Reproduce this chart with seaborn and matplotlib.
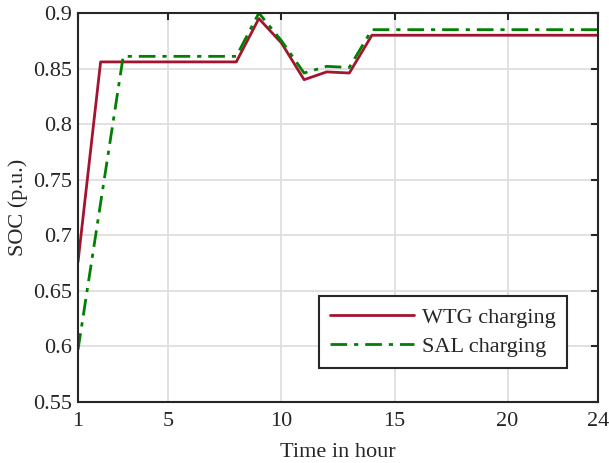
import matplotlib
matplotlib.use("Agg")
import matplotlib.pyplot as plt
import seaborn as sns
import pandas as pd

hours = list(range(1, 25))
wtg = [0.676, 0.856, 0.856, 0.856, 0.856, 0.856, 0.856, 0.856, 0.895, 0.873,
       0.840, 0.847, 0.846, 0.880, 0.880, 0.880, 0.880, 0.880, 0.880, 0.880,
       0.880, 0.880, 0.880, 0.880]
sal = [0.597, 0.729, 0.861, 0.861, 0.861, 0.861, 0.861, 0.861, 0.900, 0.875,
       0.846, 0.852, 0.851, 0.885, 0.885, 0.885, 0.885, 0.885, 0.885, 0.885,
       0.885, 0.885, 0.885, 0.885]
series_names = ["WTG charging", "SAL charging"]
xticks = [1, 5, 10, 15, 20, 24]
yticks = [0.55, 0.6, 0.65, 0.7, 0.75, 0.8, 0.85, 0.9]
ytick_labels = ["0.55", "0.6", "0.65", "0.7", "0.75", "0.8", "0.85", "0.9"]

sns.set_theme(style="white")
plt.rcParams['font.family'] = ['Liberation Serif', 'DejaVu Serif']
plt.rcParams['mathtext.fontset'] = 'stix'

df = pd.DataFrame({
    "hour": hours * 2,
    "soc": wtg + sal,
    "series": [series_names[0]] * len(hours) + [series_names[1]] * len(hours),
})

fig = plt.figure(figsize=(6.09, 4.63), dpi=100)
ax = fig.add_axes([78 / 609, 1 - 402 / 463, (598 - 78) / 609, (402 - 13) / 463])

sns.lineplot(data=df, x="hour", y="soc", hue="series", style="series",
             palette={series_names[0]: "#A2142F", series_names[1]: "#008000"},
             dashes={series_names[0]: "", series_names[1]: (6, 2.5, 1.5, 2.5)},
             linewidth=2, ax=ax, legend=True)

ax.set_xlim(1, 24)
ax.set_ylim(0.55, 0.9)
ax.set_xticks(xticks)
ax.set_xticklabels([str(t) for t in xticks])
ax.set_yticks(yticks)
ax.set_yticklabels(ytick_labels)
ax.grid(True, color="#dedede", linewidth=1.3)
ax.set_axisbelow(True)
for sp in ax.spines.values():
    sp.set_color("#262626")
    sp.set_linewidth(1.5)
ax.tick_params(direction="in", length=5, width=1.5, top=True, right=True,
               labelsize=16, colors="#262626", labelcolor="#262626", pad=4)
ax.tick_params(axis="x", pad=7)
ax.set_xlabel("Time in hour", fontsize=16, color="#262626", labelpad=9)
ax.set_ylabel("SOC (p.u.)", fontsize=16, color="#262626", labelpad=4)

leg = ax.legend(loc="lower right", bbox_to_anchor=(0.940, 0.087), fontsize=16,
                frameon=True, fancybox=False, framealpha=1, handlelength=3.8,
                borderpad=0.5, labelspacing=0.4, handletextpad=0.35,
                borderaxespad=0)
leg.get_frame().set_edgecolor("#262626")
leg.get_frame().set_linewidth(1.5)

fig.savefig("out.png", dpi=100)
